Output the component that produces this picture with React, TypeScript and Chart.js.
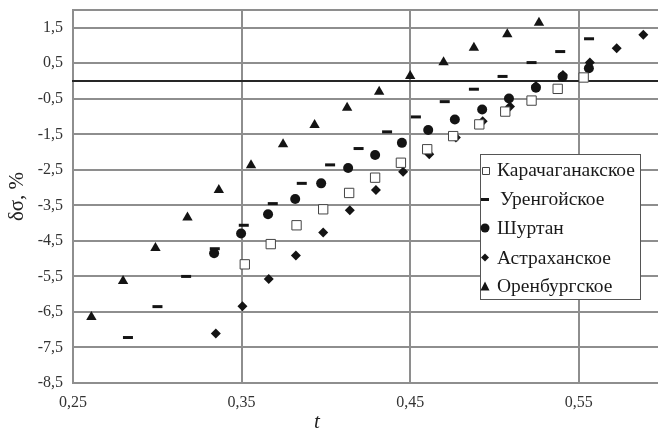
import React, { useEffect, useRef } from 'react';
import { Chart, registerables } from 'chart.js';

Chart.register(...registerables);

// ---- data ----
const seriesNames = ['Карачаганакское', 'Уренгойское', 'Шуртан', 'Астраханское', 'Оренбургское'];

const karachT = [0.3519, 0.3673, 0.3826, 0.3984, 0.4138, 0.4292, 0.4445, 0.4601, 0.4755, 0.491, 0.5064, 0.522, 0.5375, 0.5529];
const karachD = [-5.16, -4.59, -4.06, -3.61, -3.15, -2.72, -2.3, -1.92, -1.55, -1.22, -0.86, -0.55, -0.22, 0.1];

const urengT = [0.2826, 0.3001, 0.3171, 0.3341, 0.3513, 0.3685, 0.3857, 0.4025, 0.4194, 0.4363, 0.4534, 0.4705, 0.4878, 0.5048, 0.522, 0.539, 0.5561];
const urengD = [-7.22, -6.35, -5.5, -4.72, -4.06, -3.45, -2.88, -2.36, -1.9, -1.43, -1.01, -0.58, -0.23, 0.13, 0.52, 0.83, 1.19];

const shurtanT = [0.3337, 0.3497, 0.3657, 0.3818, 0.3972, 0.4132, 0.4292, 0.4451, 0.4607, 0.4765, 0.4927, 0.5086, 0.5246, 0.5404, 0.556];
const shurtanD = [-4.85, -4.29, -3.75, -3.32, -2.88, -2.45, -2.08, -1.74, -1.38, -1.08, -0.8, -0.49, -0.19, 0.12, 0.36];

const astrT = [0.3347, 0.3505, 0.3661, 0.3822, 0.3984, 0.4142, 0.4297, 0.4458, 0.4613, 0.4771, 0.493, 0.5092, 0.5246, 0.5406, 0.5566, 0.5725, 0.5883];
const astrD = [-7.11, -6.34, -5.57, -4.91, -4.26, -3.64, -3.07, -2.55, -2.06, -1.59, -1.13, -0.72, -0.14, 0.17, 0.52, 0.92, 1.3];

const orenT = [0.2609, 0.2797, 0.2989, 0.3179, 0.3365, 0.3556, 0.3746, 0.3933, 0.4126, 0.4316, 0.45, 0.4698, 0.4878, 0.5076, 0.5264];
const orenD = [-6.64, -5.63, -4.7, -3.84, -3.07, -2.37, -1.78, -1.24, -0.75, -0.3, 0.14, 0.53, 0.94, 1.32, 1.64];

const xTicks = [0.25, 0.35, 0.45, 0.55];
const yTickLabels = [-8.5, -7.5, -6.5, -5.5, -4.5, -3.5, -2.5, -1.5, -0.5, 0.5, 1.5];
const yTop = 2;
const yZero = 0;

const xTitle = 't';
const yTitle = 'δσ, %';

const fmt = (v: number) => v.toFixed(2).replace(/0$/, '').replace('.', ',');
const pts = (xs: number[], ys: number[]) => xs.map((x, i) => ({ x, y: ys[i] }));

const GRID = '#8e8e8e';
const INK = '#141414';
const SERIF = '"Liberation Serif", "Times New Roman", serif';

type Shape = 'rect' | 'line' | 'circle' | 'rectRot' | 'triangle';
const shapes: Shape[] = ['rect', 'line', 'circle', 'rectRot', 'triangle'];

function drawMarker(ctx: CanvasRenderingContext2D, shape: Shape, x: number, y: number, s: number) {
  ctx.save();
  ctx.beginPath();
  if (shape === 'rect') {
    ctx.fillStyle = '#fff';
    ctx.strokeStyle = '#444';
    ctx.lineWidth = 1;
    ctx.rect(Math.round(x - s / 2) + 0.5, Math.round(y - s / 2) + 0.5, s, s);
    ctx.fill();
    ctx.stroke();
  } else if (shape === 'line') {
    ctx.fillStyle = INK;
    ctx.fillRect(Math.round(x - s / 2), Math.round(y) - 1, s, 3);
  } else if (shape === 'circle') {
    ctx.fillStyle = INK;
    ctx.arc(x, y, s / 2, 0, Math.PI * 2);
    ctx.fill();
  } else if (shape === 'rectRot') {
    ctx.fillStyle = INK;
    ctx.moveTo(x, y - s / 2);
    ctx.lineTo(x + s / 2, y);
    ctx.lineTo(x, y + s / 2);
    ctx.lineTo(x - s / 2, y);
    ctx.closePath();
    ctx.fill();
  } else {
    ctx.fillStyle = INK;
    ctx.moveTo(x, y - s / 2);
    ctx.lineTo(x + s / 2, y + s / 2);
    ctx.lineTo(x - s / 2, y + s / 2);
    ctx.closePath();
    ctx.fill();
  }
  ctx.restore();
}

// grid lines, placed with the library's scales
const gridPlugin = {
  id: 'gridLines',
  beforeDatasetsDraw(chart: any) {
    const ctx: CanvasRenderingContext2D = chart.ctx;
    const ca = chart.chartArea;
    const xs = chart.scales.x;
    const ys = chart.scales.y;
    const L = Math.round(ca.left), R = Math.round(ca.right);
    const T = Math.round(ca.top), B = Math.round(ca.bottom);
    ctx.save();
    ctx.fillStyle = GRID;
    xTicks.forEach((v) => {
      const px = Math.round(xs.getPixelForValue(v));
      ctx.fillRect(px - 1, T - 1, 2, B - T + 2);
    });
    [...yTickLabels, yTop].forEach((v) => {
      const py = Math.round(ys.getPixelForValue(v));
      ctx.fillRect(L - 1, py - 1, R - L + 1, 2);
    });
    ctx.fillStyle = '#262626';
    const pz = Math.round(ys.getPixelForValue(yZero));
    ctx.fillRect(L - 1, pz - 1, R - L + 1, 2);
    ctx.restore();
  },
};

const overlayPlugin = {
  id: 'overlay',
  afterDraw(chart: any) {
    const ctx: CanvasRenderingContext2D = chart.ctx;
    const bx = 480.5, by = 154.5, bw = 160, bh = 145;
    ctx.save();
    ctx.fillStyle = '#fff';
    ctx.fillRect(bx, by, bw, bh);
    ctx.strokeStyle = '#555';
    ctx.lineWidth = 1;
    ctx.strokeRect(bx, by, bw, bh);
    ctx.font = '19.5px ' + SERIF;
    ctx.fillStyle = '#1a1a1a';
    ctx.textBaseline = 'middle';
    ctx.textAlign = 'left';
    const rowY = [170, 199, 228, 257.5, 286];
    const sizes = [7, 8, 9, 8, 9];
    seriesNames.forEach((name, i) => {
      drawMarker(ctx, shapes[i], 485, rowY[i], sizes[i]);
      ctx.fillText(name, i === 1 ? 500 : 497, rowY[i] + 1);
    });
    ctx.font = 'italic 21px ' + SERIF;
    ctx.fillStyle = '#222';
    ctx.textAlign = 'center';
    ctx.fillText(xTitle, 317, 422);
    ctx.restore();
  },
};

export default function App() {
  const ref = useRef<HTMLCanvasElement | null>(null);
  useEffect(() => {
    document.body.style.margin = '0';
    const chart = new Chart(ref.current!, {
      type: 'scatter',
      data: {
        datasets: [
          { label: seriesNames[0], data: pts(karachT, karachD), pointStyle: 'rect', pointRadius: 6.6, backgroundColor: '#fff', borderColor: '#444', borderWidth: 1 },
          { label: seriesNames[1], data: pts(urengT, urengD), pointStyle: 'line', pointRadius: 5, backgroundColor: INK, borderColor: INK, borderWidth: 3 },
          { label: seriesNames[2], data: pts(shurtanT, shurtanD), pointStyle: 'circle', pointRadius: 5, backgroundColor: INK, borderColor: INK, borderWidth: 0 },
          { label: seriesNames[3], data: pts(astrT, astrD), pointStyle: 'rectRot', pointRadius: 5, backgroundColor: INK, borderColor: INK, borderWidth: 0 },
          { label: seriesNames[4], data: pts(orenT, orenD), pointStyle: 'triangle', pointRadius: 6, backgroundColor: INK, borderColor: INK, borderWidth: 0 },
        ],
      },
      options: {
        animation: false,
        responsive: false,
        layout: { autoPadding: false, padding: { top: 10, right: 1, left: 0, bottom: 0 } },
        plugins: { legend: { display: false }, tooltip: { enabled: false } },
        scales: {
          x: {
            type: 'linear',
            min: 0.25,
            max: 0.597,
            afterBuildTicks: (s: any) => { s.ticks = xTicks.map((v) => ({ value: v })); },
            afterFit: (s: any) => { s.height = 49; s.paddingLeft = 0; s.paddingRight = 0; },
            ticks: {
              autoSkip: false,
              maxRotation: 0,
              padding: 2,
              color: '#333',
              font: { family: SERIF, size: 16 },
              callback: (v: any) => fmt(Number(v)),
            },
            grid: { display: false },
            border: { display: false },
          },
          y: {
            type: 'linear',
            min: -8.5,
            max: yTop,
            afterBuildTicks: (s: any) => { s.ticks = yTickLabels.map((v) => ({ value: v })); },
            afterFit: (s: any) => { s.width = 73; s.paddingTop = 0; s.paddingBottom = 0; },
            ticks: {
              autoSkip: false,
              padding: 2,
              color: '#333',
              font: { family: SERIF, size: 16 },
              callback: (v: any) => fmt(Number(v)),
            },
            grid: { display: false },
            border: { display: false },
            title: {
              display: true,
              text: yTitle,
              color: '#222',
              font: { family: SERIF, size: 21 },
              padding: { top: 5, bottom: 0 },
            },
          },
        },
      },
      plugins: [gridPlugin, overlayPlugin],
    } as any);
    return () => chart.destroy();
  }, []);
  return (
    <div style={{ width: 659, height: 432 }}>
      <canvas ref={ref} width={659} height={432} style={{ display: 'block', width: 659, height: 432 }} />
    </div>
  );
}
